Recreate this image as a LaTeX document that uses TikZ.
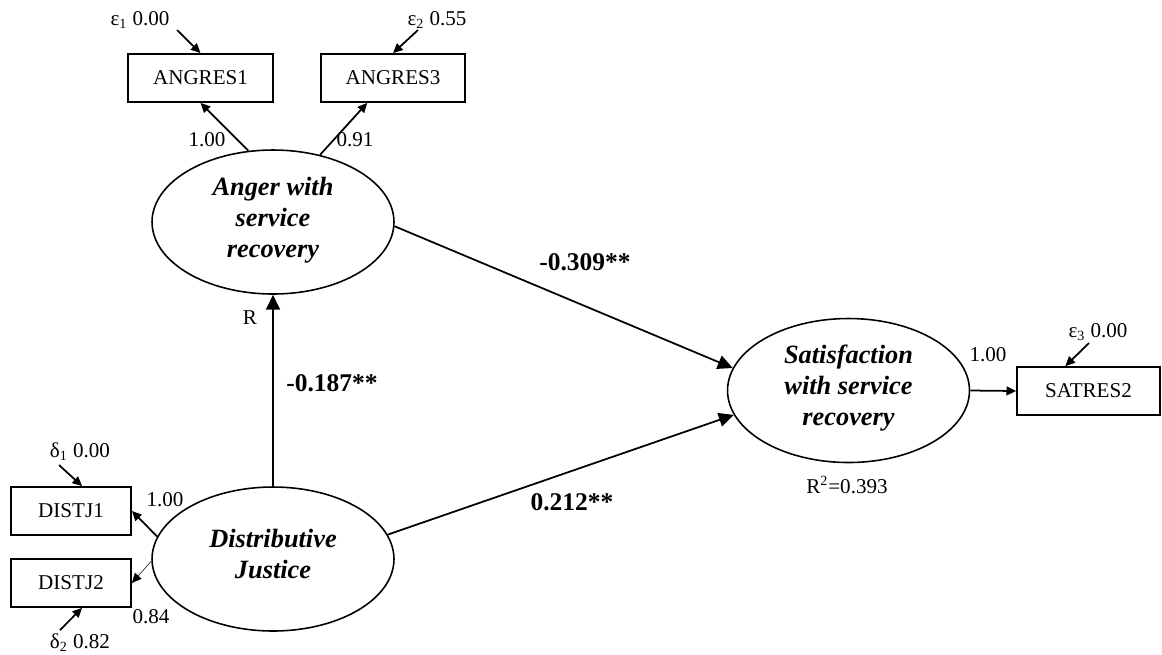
\documentclass[tikz,border=0pt]{standalone}
\usepackage{fontspec}
\setmainfont{Liberation Serif}
\usepackage{tikz}
\usetikzlibrary{shapes.geometric, arrows.meta}

\tikzset{
	indicator/.style={draw, line width=1pt, rectangle, minimum height=0.96cm, inner sep=0pt, font=\fontsize{12}{14}\selectfont},
	construct/.style={draw, ellipse, line width=0.9pt, minimum width=4.84cm, minimum height=2.88cm, inner sep=0pt, align=center, font=\fontsize{15}{17.6}\selectfont\bfseries\itshape},
	loading/.style={-{Triangle[length=5.5pt, width=5pt]}, line width=1pt},
	effect/.style={-{Triangle[length=8.5pt, width=8pt]}, line width=1pt},
	num/.style={inner sep=0pt, font=\fontsize{12}{14}\selectfont},
	coef/.style={inner sep=0pt, font=\fontsize{14.5}{17}\selectfont\bfseries}
}

\begin{document}
\begin{tikzpicture}[x=0.02cm, y=-0.02cm]

	\useasboundingbox (0, 0) rectangle (1162, 654);

	% Draw latent constructs
	\node[construct] (anger) at (273, 222) {Anger with\\service\\recovery\\[-12pt]};
	\node[construct] (distj) at (273, 559) {Distributive\\Justice\\[-12pt]};
	\node[construct] (satis) at (848.5, 390.5) {Satisfaction\\with service\\recovery\\[-12pt]};

	% Draw boxes of the indicators
	\foreach \name/\x/\y/\w/\txt in {angres1/200.5/78/2.9/ANGRES1, angres3/393/78/2.88/ANGRES3, distj1/71/511/2.4/DISTJ1, distj2/71/583/2.4/DISTJ2, satres2/1088.5/391/2.86/SATRES2}
		\node[indicator, minimum width=\w cm] (\name) at (\x, \y) {\txt};

	% Draw error terms
	% for anger
	\node[num] (eps1) at (140, 20) {ε\textsubscript{1} 0.00};
	\coordinate (eps1 tail) at (177, 30);
	\draw[loading] (eps1 tail) -- (angres1.north);

	\node[num] (eps2) at (437, 20) {ε\textsubscript{2} 0.55};
	\coordinate (eps2 tail) at (418, 30);
	\draw[loading] (eps2 tail) -- (angres3.north);

	% for satisfaction
	\node[num] (eps3) at (1098, 332) {ε\textsubscript{3} 0.00};
	\coordinate (eps3 tail) at (1089, 343);
	\draw[loading] (eps3 tail) -- (satres2.133);

	% for justice
	\node[num] (delta1) at (80, 452) {δ\textsubscript{1} 0.00};
	\coordinate (delta1 tail) at (59, 465);
	\draw[loading] (delta1 tail) -- (distj1.66);

	\node[num] (delta2) at (80, 643) {δ\textsubscript{2} 0.82};
	\coordinate (delta2 tail) at (60, 630);
	\draw[loading] (delta2 tail) -- (distj2.294);

	% Draw loadings
	\draw[loading] (anger.109) -- (angres1.south);
	\draw[loading] (anger.55) -- (angres3.224);
	\draw[loading] (distj.169) -- (distj1.east);
	\draw[loading, line width=0.3pt] (distj.181) -- (distj2.east);
	\draw[loading] (satis.east) -- (satres2.west);

	\node[num] (load angres1) at (207, 140) {1.00};
	\node[num] (load angres3) at (355, 140) {0.91};
	\node[num] (load distj1) at (165, 500) {1.00};
	\node[num] (load distj2) at (151, 617) {0.84};
	\node[num] (load satres2) at (988, 355) {1.00};

	% Draw structural paths
	\draw[effect] (distj.north) -- (anger.south);
	\draw[effect] (anger.-2) -- (satis.169);
	\draw[effect] (distj.12) -- (satis.192);

	\node[coef] (path justice anger) at (332, 383) {-0.187**};
	\node[coef] (path anger satis) at (585, 262) {-0.309**};
	\node[coef] (path justice satis) at (572, 502) {0.212**};

	\node[num] (r tag) at (250, 318) {R};
	\node[num] (r square) at (847, 485) {R\textsuperscript{2}=0.393};

\end{tikzpicture}
\end{document}
